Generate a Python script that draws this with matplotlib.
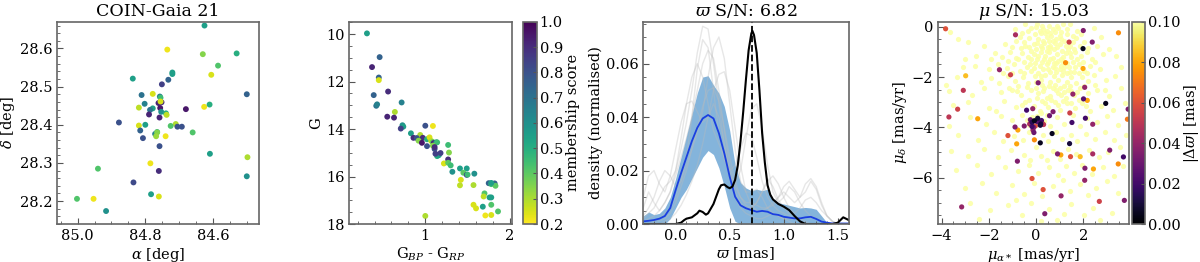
import numpy as np
import matplotlib.pyplot as plt
plt.rcParams.update({'font.size': 10.5})
plt.rcParams.update({'font.family': 'DejaVu Serif'})
plt.rcParams.update({'mathtext.fontset': 'dejavuserif'})
plt.rcParams.update({'axes.edgecolor': '#666666', 'axes.linewidth': 1.2})

# ---- panel 1: sky positions (ra, dec, membership score)
ra = [84.625, 84.735, 84.63, 84.53, 84.585, 84.72, 84.72, 84.605, 84.837, 84.732,
      84.751, 84.811, 84.778, 84.757, 84.755, 84.752, 84.761, 84.802, 84.819, 84.778,
      84.786, 84.755, 84.756, 84.68, 84.626, 84.61, 84.5, 84.753, 84.739, 84.737,
      84.789, 84.758, 84.878, 84.8, 84.819, 84.71, 84.725, 84.705, 84.692, 84.815,
      84.771, 84.765, 84.765, 84.66, 84.807, 84.768, 84.74, 84.758, 84.609, 84.498,
      84.94, 84.785, 84.76, 84.835, 84.5, 84.783, 84.76, 85.002, 84.953, 84.916]
dec = [28.66, 28.597, 28.585, 28.587, 28.555, 28.537, 28.533, 28.531, 28.521, 28.518,
       28.506, 28.478, 28.481, 28.474, 28.471, 28.459, 28.457, 28.455, 28.445, 28.443,
       28.439, 28.461, 28.444, 28.441, 28.447, 28.453, 28.48, 28.434, 28.43, 28.426,
       28.427, 28.419, 28.406, 28.4, 28.398, 28.402, 28.397, 28.395, 28.395, 28.385,
       28.376, 28.381, 28.38, 28.38, 28.365, 28.37, 28.37, 28.344, 28.324, 28.315,
       28.285, 28.299, 28.279, 28.249, 28.265, 28.218, 28.212, 28.206, 28.206, 28.174]
memb1 = [0.55, 0.22, 0.35, 0.5, 0.42, 0.55, 0.55, 0.25, 0.55, 0.75,
         0.85, 0.7, 0.25, 0.65, 0.45, 0.9, 0.92, 0.65, 0.28, 0.55,
         0.7, 0.25, 0.95, 0.95, 0.22, 0.5, 0.75, 0.6, 0.5, 0.28,
         0.92, 0.92, 0.8, 0.55, 0.25, 0.3, 0.42, 0.8, 0.8, 0.75,
         0.65, 0.5, 0.35, 0.42, 0.8, 0.32, 0.22, 0.8, 0.55, 0.3,
         0.42, 0.22, 0.9, 0.82, 0.6, 0.55, 0.25, 0.42, 0.22, 0.6]

# ---- panel 2: colour-magnitude diagram
bp_rp = [0.31, 0.46, 0.37, 0.45, 0.45, 0.39, 0.56, 0.72, 0.42, 0.43,
         0.64, 0.55, 0.63, 0.73, 0.74, 0.71, 1.0, 1.09, 0.83, 0.94,
         0.86, 0.9, 0.97, 1.02, 1.05, 1.07, 1.09, 1.1, 1.13, 1.14,
         0.92, 0.96, 1.02, 1.09, 1.11, 1.11, 1.14, 1.16, 1.12, 1.18,
         1.27, 1.28, 1.27, 1.22, 1.27, 1.3, 1.32, 1.41, 1.49, 1.45,
         1.49, 1.5, 1.58, 1.42, 1.41, 1.57, 1.75, 1.78, 1.82, 1.83,
         1.7, 1.69, 1.76, 1.78, 1.68, 1.78, 1.57, 1.6, 1.71, 1.78,
         1.86, 1.0, 1.78]
gmag = [9.97, 10.97, 11.39, 11.83, 11.94, 12.57, 12.42, 12.88, 13.02, 12.96,
        13.28, 13.48, 13.52, 13.84, 13.9, 13.98, 13.86, 13.87, 14.18, 14.25,
        14.37, 14.38, 14.37, 14.43, 14.35, 14.5, 14.55, 14.59, 14.56, 14.56,
        14.49, 14.58, 14.72, 14.7, 14.84, 14.76, 15.14, 15.1, 15.04, 15.01,
        14.67, 14.99, 15.28, 15.45, 15.42, 15.53, 15.8, 15.66, 15.66, 15.84,
        15.93, 15.92, 15.88, 16.14, 16.37, 16.36, 16.28, 16.32, 16.29, 16.39,
        16.71, 16.84, 16.88, 16.88, 17.27, 17.19, 17.19, 17.34, 17.64, 17.62,
        17.47, 17.66, 16.27]
memb2 = [0.55, 0.75, 0.92, 0.75, 0.25, 0.75, 0.9, 0.65, 0.7, 0.65,
         0.3, 0.92, 0.92, 0.6, 0.55, 0.85, 0.8, 0.22, 0.55, 0.3,
         0.9, 0.8, 0.9, 0.5, 0.25, 0.28, 0.4, 0.92, 0.6, 0.45,
         0.35, 0.95, 0.8, 0.35, 0.8, 0.9, 0.5, 0.55, 0.85, 0.85,
         0.45, 0.35, 0.9, 0.25, 0.4, 0.45, 0.6, 0.55, 0.55, 0.4,
         0.85, 0.45, 0.6, 0.25, 0.28, 0.3, 0.75, 0.45, 0.75, 0.4,
         0.42, 0.28, 0.55, 0.55, 0.55, 0.42, 0.25, 0.25, 0.22, 0.25,
         0.42, 0.3, 0.55]

# ---- panel 3: parallax densities
plx_grid = [-0.3, -0.25, -0.2, -0.15, -0.1, -0.05, 0.0, 0.05, 0.1, 0.15, 0.2, 0.25, 0.3,
            0.35, 0.4, 0.45, 0.5, 0.55, 0.6, 0.65, 0.7, 0.75, 0.8, 0.85, 0.9, 0.95,
            1.0, 1.05, 1.1, 1.15, 1.2, 1.25, 1.3, 1.35, 1.4, 1.45, 1.5, 1.55, 1.6]
field_mean = [0.001, 0.0012, 0.0015, 0.002, 0.003, 0.006, 0.0127, 0.019, 0.025, 0.031, 0.036, 0.0395, 0.0408,
              0.0395, 0.034, 0.0265, 0.0177, 0.0102, 0.007, 0.0059, 0.0052, 0.0046, 0.0049, 0.0046, 0.0037, 0.0034,
              0.0027, 0.0024, 0.0021, 0.0021, 0.0025, 0.0027, 0.0019, 0.0009, 0.0005, 0.0002, 0.0002, 0.0002, 0.0002]
field_hi = [0.003, 0.0045, 0.0035, 0.004, 0.006, 0.01, 0.017, 0.025, 0.033, 0.041, 0.049, 0.055, 0.0555,
            0.052, 0.049, 0.044, 0.035, 0.022, 0.0155, 0.0135, 0.0125, 0.013, 0.0125, 0.013, 0.0095, 0.008,
            0.0075, 0.007, 0.0065, 0.006, 0.0062, 0.006, 0.0055, 0.003, 0.0005, 0.0, 0.0, 0.0, 0.0]
field_lo = [0.0, 0.0, 0.0, 0.0, 0.0, 0.002, 0.006, 0.01, 0.013, 0.017, 0.021, 0.025, 0.0275,
            0.026, 0.021, 0.014, 0.006, 0.001, 0.0, 0.0, 0.0, 0.0, 0.0, 0.0, 0.0, 0.0,
            0.0, 0.0, 0.0, 0.0, 0.0, 0.0, 0.0, 0.0, 0.0, 0.0, 0.0, 0.0, 0.0]
field_samples = [
    [0.002, 0.004, 0.006, 0.01, 0.014, 0.016, 0.02, 0.028, 0.038, 0.05, 0.064, 0.074, 0.073, 0.06, 0.045, 0.03, 0.018, 0.01, 0.006, 0.004, 0.003, 0.002, 0.002, 0.003, 0.004, 0.003, 0.002, 0.001, 0, 0, 0, 0, 0, 0, 0, 0, 0, 0, 0],
    [0, 0, 0.001, 0.002, 0.004, 0.006, 0.01, 0.016, 0.022, 0.028, 0.034, 0.042, 0.055, 0.066, 0.07, 0.062, 0.045, 0.028, 0.016, 0.012, 0.012, 0.013, 0.01, 0.006, 0.004, 0.003, 0.002, 0.002, 0.002, 0.001, 0, 0, 0, 0, 0, 0, 0, 0, 0],
    [0.006, 0.012, 0.008, 0.005, 0.008, 0.012, 0.02, 0.032, 0.045, 0.055, 0.06, 0.055, 0.045, 0.035, 0.03, 0.025, 0.018, 0.015, 0.02, 0.032, 0.043, 0.045, 0.036, 0.022, 0.012, 0.008, 0.01, 0.014, 0.012, 0.008, 0.005, 0.003, 0.002, 0.001, 0, 0, 0, 0, 0],
    [0.001, 0.002, 0.003, 0.005, 0.008, 0.012, 0.018, 0.025, 0.032, 0.04, 0.05, 0.06, 0.065, 0.062, 0.05, 0.035, 0.022, 0.014, 0.01, 0.008, 0.008, 0.007, 0.006, 0.006, 0.007, 0.01, 0.014, 0.016, 0.013, 0.01, 0.012, 0.016, 0.013, 0.007, 0.003, 0.001, 0, 0, 0],
    [0.01, 0.018, 0.02, 0.015, 0.012, 0.018, 0.028, 0.038, 0.045, 0.046, 0.042, 0.038, 0.04, 0.045, 0.04, 0.03, 0.02, 0.012, 0.008, 0.006, 0.006, 0.008, 0.012, 0.017, 0.014, 0.009, 0.006, 0.004, 0.003, 0.002, 0.001, 0, 0, 0, 0, 0, 0, 0, 0],
    [0, 0, 0, 0.001, 0.002, 0.004, 0.008, 0.014, 0.02, 0.028, 0.036, 0.044, 0.05, 0.051, 0.046, 0.036, 0.025, 0.016, 0.01, 0.007, 0.006, 0.008, 0.012, 0.016, 0.018, 0.015, 0.01, 0.006, 0.004, 0.006, 0.009, 0.01, 0.008, 0.005, 0.003, 0.001, 0, 0, 0],
    [0, 0, 0, 0, 0.001, 0.002, 0.004, 0.007, 0.011, 0.016, 0.022, 0.03, 0.04, 0.05, 0.056, 0.057, 0.05, 0.036, 0.022, 0.012, 0.007, 0.005, 0.005, 0.006, 0.008, 0.01, 0.012, 0.01, 0.008, 0.01, 0.015, 0.017, 0.014, 0.008, 0.003, 0.001, 0, 0, 0],
    [0.003, 0.006, 0.01, 0.016, 0.02, 0.018, 0.014, 0.016, 0.025, 0.04, 0.058, 0.069, 0.066, 0.05, 0.034, 0.024, 0.02, 0.022, 0.028, 0.034, 0.033, 0.025, 0.016, 0.01, 0.007, 0.005, 0.004, 0.003, 0.002, 0.001, 0, 0, 0, 0, 0, 0, 0, 0, 0],
]
clus_x = [-0.3, 0.0, 0.05, 0.08, 0.1, 0.15, 0.2, 0.22, 0.25, 0.28, 0.3, 0.35, 0.4, 0.42, 0.45, 0.48, 0.5,
          0.525, 0.55, 0.575, 0.6, 0.625, 0.65, 0.675, 0.7, 0.71, 0.725, 0.75, 0.775, 0.8, 0.825, 0.85, 0.875,
          0.9, 0.95, 1.0, 1.05, 1.1, 1.15, 1.2, 1.45, 1.5, 1.55, 1.6]
clus_y = [0.0, 0.0, 0.0005, 0.0015, 0.002, 0.0025, 0.004, 0.005, 0.0045, 0.0035, 0.004, 0.0075, 0.013, 0.0145, 0.0148, 0.0138, 0.0134,
          0.014, 0.0165, 0.022, 0.031, 0.042, 0.054, 0.065, 0.0713, 0.0723, 0.0707, 0.064, 0.05, 0.034, 0.023, 0.0145, 0.011,
          0.0092, 0.0075, 0.0065, 0.0052, 0.003, 0.001, 0.0, 0.0, 0.0005, 0.0025, 0.0015]
plx_cluster = 0.71

# ---- panel 4: proper motions, field stars (|dplx| >= 0.1)
pm_field_a = [-3.65, -0.45, -0.2, 0.05, 0.3, 0.55, 0.8, 1.15, 1.45, -0.05, 0.65, 0.95, 2.45, -0.6, 0.2, 1.3, 1.75,
              -0.85, -0.5, -0.3, -0.1, 0.1, 0.35, 0.45, 0.6, 0.85, 1.0, 1.2, 1.45, 1.7, 2.05, 2.6, -2.2, -1.3, 0.25, 0.75, -0.2, 1.1,
              -2.55, -1.75, -1.45, -1.1, -0.85, -0.6, -0.35, -0.1, 0.05, 0.2, 0.4, 0.55, 0.7, 0.9, 1.05, 1.25, 1.5, 1.65, 1.9, 2.15, 2.35, 2.85, 3.4, -3.0, 0.5, -0.5, 1.3, 0.0, 0.6,
              -3.1, -2.6, -2.0, -1.6, -1.25, -0.95, -0.7, -0.4, -0.2, 0.15, 0.3, 0.45, 0.7, 0.85, 1.05, 1.15, 1.4, 1.6, 1.8, 2.05, 2.3, 2.7, 3.6, 0.95, -0.05,
              -3.35, -2.35, -1.9, -1.55, -1.2, -0.9, -0.55, -0.35, -0.05, 0.2, 0.4, 0.6, 0.75, 0.95, 1.1, 1.3, 1.5, 1.7, 1.95, 2.2, 2.5, 2.95, 3.35, -3.8, 0.55, 1.2, -0.75,
              -3.7, -2.7, -2.2, -1.5, -1.0, -0.65, -0.2, 0.1, 0.35, 0.6, 0.85, 1.05, 1.35, 1.6, 1.85, 2.2, 2.6, 3.1, 3.6, 0.45, 1.25,
              -3.5, -2.9, -2.0, -1.35, -0.85, -0.45, -0.1, 0.25, 0.5, 0.8, 1.0, 1.3, 1.65, 1.95, 2.3, 2.75, 3.25, 3.75, 0.15, -1.7,
              -3.7, -2.8, -2.1, -1.5, -1.0, -0.6, -0.3, 0.05, 0.35, 0.6, 0.9, 1.2, 1.55, 1.85, 2.15, 2.6, 3.0, 3.45, 0.2, -0.15, 0.45, -0.4,
              -3.3, -2.45, -1.8, -1.4, -0.95, -0.55, -0.3, 0.3, 0.5, 0.85, 1.1, 1.5, 1.75, 2.1, 2.5, 2.9, 3.3, 3.8,
              -3.6, -2.9, -2.2, -1.6, -1.05, -0.5, 0.0, 0.2, 0.7, 1.0, 1.35, 1.7, 2.25, 2.65, 3.05, 3.55, 0.45, -0.25,
              -3.4, -2.5, -1.9, -1.3, -0.75, -0.3, 0.1, 0.55, 0.95, 1.25, 1.6, 1.95, 2.35, 2.85, 3.3, 3.7,
              -3.0, -2.3, -1.7, -1.0, -0.5, -0.1, 0.25, 0.7, 1.15, 1.45, 1.85, 2.2, 2.55, 3.0, 3.45, -0.85,
              -2.8, -1.95, -1.2, -0.6, -0.2, 0.55, 0.9, 1.5, 2.05, 2.4, 3.2, -2.4, 1.2, 2.7, 0.2,
              0.15, 0.4, 0.7, 1.0, 0.3, 0.55, 0.8, 1.35, 0.1, 0.35, 0.75, 1.15, -0.25, 0.6, 1.0, 1.3, 0.1, 0.8, 1.45, 0.25, 1.55, 1.8, 0.0, 1.0, -0.3, 0.45, 0.9, 1.55]
pm_field_d = [-0.22, 0.1, -0.05, 0.12, -0.1, 0.05, -0.2, 0.1, 0.12, -0.3, -0.35, -0.05, -0.05, -0.25, -0.25, -0.3, -0.15,
              -0.55, -0.6, -0.45, -0.7, -0.5, -0.65, -0.4, -0.75, -0.5, -0.7, -0.55, -0.75, -0.45, -0.6, -0.75, -0.75, -0.7, -0.85, -0.9, -0.95, -0.95,
              -1.15, -1.05, -1.2, -1.0, -1.25, -1.05, -1.2, -1.1, -1.3, -1.0, -1.15, -1.0, -1.25, -1.1, -1.3, -1.05, -1.2, -1.0, -1.15, -1.0, -1.3, -1.1, -1.15, -1.3, -1.4, -1.4, -1.45, -0.9, -0.85,
              -1.6, -1.55, -1.7, -1.5, -1.65, -1.5, -1.75, -1.6, -1.75, -1.55, -1.7, -1.5, -1.6, -1.8, -1.55, -1.75, -1.6, -1.8, -1.5, -1.75, -1.55, -1.7, -1.6, -1.35, -1.45,
              -2.0, -2.2, -2.05, -2.25, -1.95, -2.15, -2.0, -2.25, -1.95, -2.1, -1.9, -2.2, -1.95, -2.1, -1.9, -2.2, -2.0, -2.25, -2.0, -2.15, -2.3, -2.1, -1.95, -2.3, -2.35, -2.35, -2.35,
              -2.55, -2.7, -2.45, -2.6, -2.5, -2.7, -2.5, -2.65, -2.45, -2.75, -2.5, -2.7, -2.5, -2.7, -2.45, -2.65, -2.5, -2.75, -2.45, -2.85, -2.85,
              -3.1, -3.0, -3.25, -2.95, -3.2, -3.0, -3.15, -2.95, -3.2, -3.0, -3.3, -3.05, -3.25, -3.05, -3.35, -3.15, -3.3, -3.05, -3.35, -3.35,
              -3.95, -3.6, -3.85, -3.55, -3.7, -3.5, -3.9, -3.55, -3.75, -3.95, -3.6, -3.85, -3.5, -3.95, -3.65, -3.8, -3.55, -3.9, -3.45, -3.6, -3.5, -3.7,
              -4.3, -4.5, -4.2, -4.55, -4.35, -4.5, -4.2, -4.3, -4.55, -4.2, -4.45, -4.3, -4.55, -4.25, -4.45, -4.2, -4.5, -4.3,
              -4.95, -5.15, -4.85, -5.2, -4.9, -5.1, -4.8, -5.15, -4.95, -5.25, -4.85, -5.05, -4.9, -5.2, -5.0, -4.8, -5.3, -5.3,
              -5.7, -5.5, -5.85, -5.6, -5.75, -5.5, -5.8, -5.6, -5.9, -5.55, -5.8, -5.5, -5.85, -5.6, -5.95, -5.55,
              -6.4, -6.2, -6.6, -6.3, -6.65, -6.2, -6.75, -6.35, -6.1, -6.55, -6.25, -6.7, -6.4, -6.15, -6.6, -6.9,
              -7.0, -7.3, -7.1, -7.5, -7.0, -7.25, -7.7, -7.05, -7.5, -7.2, -7.4, -7.65, -7.45, -7.7, -7.75,
              -0.15, -0.25, -0.1, -0.35, -0.55, -0.55, -0.65, -0.9, -1.15, -1.3, -1.45, -1.2, -1.5, -1.8, -1.7, -1.85, -1.85, -2.3, -2.35, -2.3, -1.4, -1.85, -2.2, -2.45, -0.8, -0.95, -0.8, -0.6]
# extra field stars in the dense clump
pm_core_a = [-0.9, -0.7, -0.35, 0.0, 0.25, 0.45, 0.6, 0.9, 1.05, 1.3, 1.55, 1.9,
             -1.0, -0.65, -0.45, 0.05, 0.2, 0.5, 0.7, 1.05, 1.25, 1.6, 1.85, 2.2,
             -1.2, -0.75, -0.2, 0.25, 0.6, 0.85, 1.15, 1.45, 1.75, 2.0, 2.5,
             -1.0, -0.5, -0.1, 0.2, 0.5, 0.8, 1.2, 1.45, 1.65, 2.15, 2.45,
             -0.8, -0.4, 0.0, 0.3, 0.7, 0.95, 1.2, 1.5, 1.75, 2.05,
             -0.3, 0.05, 0.4, 0.65, 0.95, 1.15, 1.5, 1.8, 2.1,
             -0.6, -1.15, -1.4, -1.9, 2.75, 3.1, -2.9, -3.3, 2.9]
pm_core_d = [-0.1, -0.4, -0.15, 0.0, 0.05, -0.15, -0.25, 0.05, -0.2, -0.1, -0.35, -0.3,
             -0.8, -0.85, -0.75, -0.65, -0.75, -0.8, -0.55, -0.5, -0.75, -0.9, -0.75, -0.85,
             -1.35, -1.3, -1.3, -1.4, -1.3, -1.45, -1.4, -1.05, -1.3, -1.4, -1.4,
             -1.85, -1.85, -1.65, -1.95, -1.7, -1.65, -1.6, -1.8, -1.6, -1.85, -1.9,
             -2.55, -2.4, -2.45, -2.55, -2.45, -2.65, -2.6, -2.55, -2.6, -2.35,
             -2.9, -2.85, -3.05, -2.9, -3.1, -2.95, -3.05, -2.9, -3.15,
             -3.1, -2.45, -1.85, -1.3, -0.4, -0.9, -0.6, -0.5, -2.5]

# proper motions of stars close in parallax, with |dplx| in mas
pm_near_a = [-3.83, -0.87, 2.0, 3.49, 1.4, 2.38, 1.99, -1.55, 1.25, 1.99, -2.98, -1.08, 0.09, 2.06, -3.08, 1.56,
             2.01, 2.17, 2.95, 3.9, -3.32, -3.69, -2.47, 3.87, -0.4, -0.14, 0.72, 0.57, 1.43, 1.52, 2.09, 2.4,
             -0.24, -0.17, -0.07, 0.04, 0.16, -0.03, -0.17, -0.27, 0.26, 0.07, -0.1, 0.18, 0.32, -0.5, -0.17, 0.23,
             -0.89, -1.19, -0.77, -0.13, -0.09, 0.68, 0.2, -0.07, 0.18, 1.42, -0.82, -0.79, 0.91, 1.05, 1.46, 1.87,
             2.4, 3.12, 3.7, 2.07, 2.43, 3.48, 2.06, -0.17, 0.3, 1.06, 2.68, 3.74, -3.15, 0.37]
pm_near_d = [-0.08, -0.32, -0.15, -0.24, -0.61, -0.61, -0.87, -1.71, -1.43, -1.66, -1.95, -1.91, -2.23, -2.41, -2.53, -2.68,
             -2.87, -2.93, -3.05, -3.28, -3.28, -3.59, -3.66, -3.68, -3.32, -3.26, -3.38, -3.54, -3.43, -3.81, -3.64, -3.88,
             -3.7, -3.8, -3.74, -3.77, -3.86, -3.95, -3.97, -3.87, -3.83, -3.64, -4.0, -3.92, -3.89, -3.95, -3.93, -3.73,
             -3.99, -4.33, -4.11, -4.11, -4.21, -4.25, -3.87, -4.5, -4.62, -4.65, -4.66, -5.35, -5.06, -5.1, -5.17, -5.17,
             -5.06, -4.91, -5.18, -5.63, -5.66, -5.46, -6.11, -6.04, -6.48, -6.73, -6.95, -6.91, -7.17, -7.44]
dplx_near = [0.06, 0.045, 0.035, 0.075, 0.055, 0.035, 0.005, 0.04, 0.075, 0.08, 0.085, 0.055, 0.035, 0.04, 0.05, 0.04,
             0.025, 0.08, 0.005, 0.035, 0.055, 0.05, 0.08, 0.07, 0.02, 0.04, 0.035, 0.03, 0.055, 0.02, 0.02, 0.04,
             0.03, 0.015, 0.005, 0.025, 0.04, 0.06, 0.02, 0.045, 0.08, 0.01, 0.035, 0.01, 0.05, 0.035, 0.06, 0.02,
             0.035, 0.06, 0.08, 0.04, 0.03, 0.005, 0.01, 0.075, 0.005, 0.01, 0.08, 0.035, 0.035, 0.08, 0.06, 0.085,
             0.045, 0.035, 0.02, 0.035, 0.08, 0.075, 0.04, 0.06, 0.06, 0.04, 0.055, 0.035, 0.04, 0.035]

fig = plt.figure(figsize=(12, 2.62), dpi=100, facecolor='w')

def style(ax):
    ax.minorticks_on()
    ax.tick_params(which='both', direction='in', top=False, right=False, color='#555555')
    ax.tick_params(which='major', length=4)
    ax.tick_params(which='minor', length=2)

# panel 1
ax1 = fig.add_axes([0.0478, 0.145, 0.168, 0.772])
ax1.scatter(ra, dec, c=memb1, cmap='viridis_r', vmin=0.2, vmax=1.0, s=18, lw=0)
ax1.set_xlim(85.06, 84.464)
ax1.set_ylim(28.14, 28.67)
ax1.set_xticks([85.0, 84.8, 84.6])
ax1.set_xlabel(r'$\alpha$ [deg]', labelpad=2)
ax1.set_ylabel(r'$\delta$ [deg]', labelpad=2)
ax1.set_title('COIN-Gaia 21', fontsize=12.5, pad=4)
style(ax1)

# panel 2
ax2 = fig.add_axes([0.291, 0.145, 0.136, 0.772])
sc2 = ax2.scatter(bp_rp, gmag, c=memb2, cmap='viridis_r', vmin=0.2, vmax=1.0, s=18, lw=0)
ax2.set_xlim(0.1, 2.03)
ax2.set_ylim(18, 9.48)
ax2.set_xticks([1, 2])
ax2.set_yticks([10, 12, 14, 16, 18])
ax2.set_xlabel(r'G$_{BP}$ - G$_{RP}$', labelpad=2)
ax2.set_ylabel('G', labelpad=2)
style(ax2)
cax2 = fig.add_axes([0.4356, 0.145, 0.0117, 0.772])
cb2 = fig.colorbar(sc2, cax=cax2)
cb2.set_ticks(np.arange(0.2, 1.01, 0.1))
cb2.set_label('membership score', labelpad=2)
cb2.outline.set_edgecolor('#666666')
cax2.tick_params(direction='in', length=3, pad=2, color='#555555')

# panel 3
ax3 = fig.add_axes([0.536, 0.145, 0.1712, 0.772])
for samp in field_samples:
    ax3.plot(plx_grid, samp, color='#bbbbbb', alpha=0.35, lw=1)
ax3.fill_between(plx_grid, field_lo, field_hi, color='#5b9bd0', alpha=0.75, lw=0)
ax3.plot(plx_grid, field_mean, color='#1a3fe0', lw=1.3)
ax3.plot(clus_x, clus_y, color='k', lw=1.5)
ax3.axvline(plx_cluster, color='k', ls='--', lw=1.3)
ax3.set_xlim(-0.3, 1.6)
ax3.set_ylim(0, 0.0757)
ax3.set_yticks([0, 0.02, 0.04, 0.06])
ax3.set_xticks([0.0, 0.5, 1.0, 1.5])
ax3.set_xlabel(r'$\varpi$ [mas]', labelpad=2)
ax3.set_ylabel('density (normalised)', labelpad=2)
ax3.set_title(r'$\varpi$ S/N: 6.82', fontsize=12.5, pad=4)
style(ax3)

# panel 4
ax4 = fig.add_axes([0.7817, 0.145, 0.1594, 0.772])
ax4.scatter(pm_field_a, pm_field_d, color='#fcffa4', s=14, lw=0, alpha=0.85, zorder=1)
ax4.scatter(pm_core_a, pm_core_d, color='#fcffa4', s=14, lw=0, alpha=0.85, zorder=1)
order = np.argsort(dplx_near)[::-1]
sc4 = ax4.scatter(np.array(pm_near_a)[order], np.array(pm_near_d)[order], c=np.array(dplx_near)[order],
                  cmap='inferno', vmin=0, vmax=0.1, s=14, lw=0, zorder=2)
ax4.set_xlim(-4.15, 3.95)
ax4.set_ylim(-7.85, 0.2)
ax4.set_xticks([-4, -2, 0, 2])
ax4.set_yticks([-6, -4, -2, 0])
ax4.set_xlabel(r'$\mu_{\alpha*}$ [mas/yr]', labelpad=2)
ax4.set_ylabel(r'$\mu_\delta$ [mas/yr]', labelpad=2)
ax4.set_title(r'$\mu$ S/N: 15.03', fontsize=12.5, pad=4)
style(ax4)
cax4 = fig.add_axes([0.9433, 0.145, 0.011, 0.772])
cb4 = fig.colorbar(sc4, cax=cax4)
cb4.set_ticks([0, 0.02, 0.04, 0.06, 0.08, 0.1])
cb4.set_label(r'$|\Delta\varpi|$ [mas]', labelpad=1)
cb4.outline.set_edgecolor('#666666')
cax4.tick_params(direction='in', length=3, pad=2, color='#555555')

plt.savefig('out.png', dpi=100)
